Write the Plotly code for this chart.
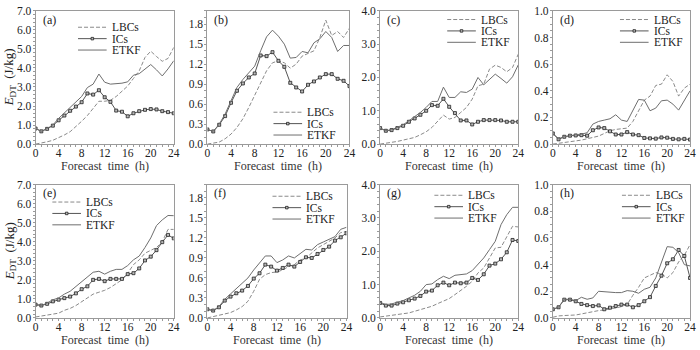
import plotly.graph_objects as go

hours = list(range(25))
panels = ["a", "b", "c", "d", "e", "f", "g", "h"]

lbcs_a = [0.0, 0.05, 0.12, 0.2, 0.32, 0.48, 0.65, 0.9, 1.2, 1.5, 1.9, 2.25, 2.25, 2.3, 2.5, 2.75, 3.05, 3.45, 3.85, 4.55, 4.88, 4.6, 4.35, 4.5, 5.08]
ics_a = [0.82, 0.67, 0.8, 0.97, 1.25, 1.5, 1.75, 1.97, 2.2, 2.66, 2.6, 2.83, 2.46, 2.22, 1.76, 1.7, 1.46, 1.62, 1.73, 1.8, 1.84, 1.82, 1.73, 1.68, 1.62]
etkf_a = [0.82, 0.67, 0.82, 1.0, 1.35, 1.65, 1.92, 2.2, 2.5, 2.97, 3.15, 3.68, 3.25, 3.15, 3.18, 3.2, 3.27, 3.62, 3.7, 3.92, 4.18, 3.9, 3.58, 3.95, 4.38]

lbcs_b = [0.0, 0.01, 0.03, 0.08, 0.15, 0.25, 0.38, 0.55, 0.73, 0.9, 1.1, 1.22, 1.25, 1.22, 1.14, 1.2, 1.32, 1.36, 1.4, 1.6, 1.86, 1.63, 1.69, 1.6, 1.74]
ics_b = [0.22, 0.19, 0.29, 0.42, 0.62, 0.8, 0.91, 1.0, 1.06, 1.33, 1.32, 1.38, 1.25, 1.16, 0.92, 0.85, 0.79, 0.89, 0.94, 1.0, 1.05, 1.05, 0.98, 0.95, 0.87]
etkf_b = [0.22, 0.19, 0.3, 0.45, 0.65, 0.85, 0.97, 1.07, 1.17, 1.4, 1.61, 1.71, 1.62, 1.5, 1.29, 1.3, 1.39, 1.37, 1.52, 1.58, 1.69, 1.6, 1.39, 1.48, 1.48]

lbcs_c = [0.0, 0.02, 0.05, 0.08, 0.12, 0.15, 0.2, 0.28, 0.37, 0.5, 0.7, 0.87, 0.75, 0.8, 0.95, 1.1, 1.35, 1.75, 1.8, 2.25, 2.37, 2.3, 2.17, 2.3, 2.7]
ics_c = [0.48, 0.4, 0.42, 0.48, 0.55, 0.67, 0.77, 0.88, 1.0, 1.17, 1.15, 1.36, 1.12, 0.93, 0.71, 0.71, 0.59, 0.67, 0.72, 0.72, 0.72, 0.71, 0.67, 0.67, 0.67]
etkf_c = [0.48, 0.4, 0.43, 0.5, 0.58, 0.7, 0.82, 0.95, 1.1, 1.28, 1.28, 1.71, 1.4, 1.4, 1.57, 1.55, 1.65, 2.0, 1.78, 1.95, 2.1, 1.97, 1.83, 2.02, 2.38]

lbcs_d = [0.0, 0.005, 0.01, 0.015, 0.02, 0.03, 0.04, 0.05, 0.06, 0.08, 0.1, 0.11, 0.115, 0.12, 0.17, 0.25, 0.33, 0.36, 0.44, 0.45, 0.52, 0.47, 0.36, 0.42, 0.45]
ics_d = [0.08, 0.036, 0.055, 0.063, 0.065, 0.067, 0.063, 0.104, 0.125, 0.12, 0.096, 0.072, 0.072, 0.09, 0.072, 0.067, 0.046, 0.043, 0.041, 0.05, 0.048, 0.039, 0.036, 0.039, 0.034]
etkf_d = [0.08, 0.04, 0.055, 0.065, 0.07, 0.075, 0.085, 0.15, 0.17, 0.18, 0.19, 0.22, 0.18, 0.17, 0.25, 0.335, 0.33, 0.25, 0.27, 0.325, 0.33, 0.3, 0.255, 0.33, 0.4]

lbcs_e = [0.05, 0.1, 0.15, 0.2, 0.25, 0.4, 0.5, 0.65, 0.85, 1.05, 1.25, 1.35, 1.45, 1.6, 1.8, 2.0, 2.35, 2.8, 3.05, 3.4, 3.55, 3.7, 4.0, 4.65, 4.65]
ics_e = [0.7, 0.65, 0.74, 0.87, 0.96, 1.04, 1.12, 1.29, 1.51, 1.66, 2.0, 2.05, 1.93, 2.05, 2.05, 2.05, 2.3, 2.35, 2.6, 3.02, 3.22, 3.56, 3.98, 4.36, 4.18]
etkf_e = [0.72, 0.65, 0.78, 0.95, 1.05, 1.25, 1.4, 1.65, 1.95, 2.15, 2.4, 2.45, 2.3, 2.45, 2.55, 2.55, 2.75, 3.05, 3.25, 3.7, 4.2, 4.85, 5.15, 5.38, 5.37]

lbcs_f = [0.0, 0.02, 0.04, 0.06, 0.08, 0.12, 0.17, 0.25, 0.4, 0.58, 0.65, 0.68, 0.69, 0.72, 0.77, 0.8, 0.87, 0.9, 0.98, 1.05, 1.1, 1.15, 1.2, 1.28, 1.3]
ics_f = [0.13, 0.11, 0.16, 0.26, 0.32, 0.37, 0.41, 0.48, 0.59, 0.67, 0.8, 0.77, 0.71, 0.75, 0.8, 0.77, 0.84, 0.91, 0.9, 0.96, 1.02, 1.07, 1.16, 1.21, 1.27]
etkf_f = [0.13, 0.11, 0.17, 0.28, 0.36, 0.44, 0.51, 0.6, 0.72, 0.83, 0.93, 0.93, 0.83, 0.87, 0.93, 0.9, 0.97, 1.03, 1.02, 1.1, 1.14, 1.18, 1.22, 1.33, 1.36]

lbcs_g = [0.03, 0.05, 0.07, 0.09, 0.12, 0.15, 0.2, 0.25, 0.3, 0.35, 0.43, 0.5, 0.58, 0.7, 0.82, 0.95, 1.1, 1.35, 1.5, 1.8, 2.1, 2.12, 2.45, 2.75, 2.73]
ics_g = [0.45, 0.37, 0.37, 0.43, 0.47, 0.53, 0.58, 0.66, 0.79, 0.82, 0.98, 1.06, 0.98, 1.06, 1.04, 1.06, 1.2, 1.14, 1.31, 1.57, 1.63, 1.76, 1.97, 2.34, 2.31]
etkf_g = [0.47, 0.4, 0.42, 0.47, 0.52, 0.6, 0.68, 0.8, 1.0, 1.02, 1.15, 1.25, 1.18, 1.28, 1.3, 1.32, 1.42, 1.62, 1.8, 2.05, 2.3, 2.8, 3.1, 3.32, 3.32]

lbcs_h = [0.005, 0.015, 0.018, 0.02, 0.022, 0.03, 0.04, 0.05, 0.055, 0.06, 0.065, 0.075, 0.085, 0.1, 0.17, 0.23, 0.3, 0.32, 0.34, 0.33, 0.3, 0.34, 0.42, 0.47, 0.55]
ics_h = [0.065, 0.08, 0.137, 0.137, 0.125, 0.105, 0.096, 0.089, 0.094, 0.065, 0.077, 0.089, 0.1, 0.1, 0.08, 0.096, 0.125, 0.156, 0.24, 0.317, 0.41, 0.44, 0.51, 0.465, 0.3]
etkf_h = [0.065, 0.08, 0.14, 0.14, 0.13, 0.155, 0.14, 0.15, 0.2, 0.195, 0.19, 0.19, 0.19, 0.205, 0.2, 0.185, 0.215, 0.23, 0.3, 0.42, 0.535, 0.53, 0.49, 0.4, 0.39]

series_names = ["LBCs", "ICs", "ETKF"]
data = {
    "a": (lbcs_a, ics_a, etkf_a), "b": (lbcs_b, ics_b, etkf_b),
    "c": (lbcs_c, ics_c, etkf_c), "d": (lbcs_d, ics_d, etkf_d),
    "e": (lbcs_e, ics_e, etkf_e), "f": (lbcs_f, ics_f, etkf_f),
    "g": (lbcs_g, ics_g, etkf_g), "h": (lbcs_h, ics_h, etkf_h),
}
y_max = {"a": 7.0, "b": 2.0, "c": 4.0, "d": 1.0, "e": 7.0, "f": 2.0, "g": 4.0, "h": 1.0}
y_dtick = {"a": 1.0, "b": 0.3, "c": 1.0, "d": 0.2, "e": 1.0, "f": 0.3, "g": 1.0, "h": 0.2}
y_minor = {"a": 0.2, "b": 0.1, "c": 0.2, "d": 0.05, "e": 0.2, "f": 0.1, "g": 0.2, "h": 0.05}

W, H = 700, 350
# panel boxes in pixels: x0, x1, ytop, ybottom
boxes = {
    "a": (33, 173, 5, 143), "b": (207, 351, 5, 143), "c": (382, 522, 5, 143), "d": (557, 696, 5, 143),
    "e": (33, 173, 185, 323), "f": (207, 348, 185, 323), "g": (382, 522, 185, 323), "h": (557, 696, 185, 323),
}
# legend first-row sample start (px) per panel
legend_px = {
    "a": (76, 22), "b": (274, 110), "c": (450, 14), "d": (625, 14),
    "e": (50, 203), "f": (273, 197), "g": (437, 196), "h": (627, 196),
}

FONT = "Liberation Serif, Times New Roman, serif"
colors = {"LBCs": "#8a8a8a", "ICs": "#555555", "ETKF": "#6e6e6e"}
dashes = {"LBCs": "4px,2px", "ICs": "solid", "ETKF": "solid"}

fig = go.Figure()
shapes = []
annotations = []

for i, p in enumerate(panels):
    n = "" if i == 0 else str(i + 1)
    xa, ya = "x" + n, "y" + n
    lb, ic, et = data[p]
    for name, vals in zip(series_names, (lb, ic, et)):
        kw = dict(
            x=hours, y=vals, name=name, xaxis=xa, yaxis=ya, showlegend=False,
            line=dict(color=colors[name], width=1, dash=dashes[name]),
            mode="lines",
        )
        if name == "ICs":
            kw["mode"] = "lines+markers"
            kw["marker"] = dict(symbol="square", size=3, color="#bbbbbb", line=dict(width=0.8, color="#222222"))
        fig.add_trace(go.Scatter(**kw))

    x0, x1, yt, yb = boxes[p]
    axis_common = dict(
        showline=True, mirror=True, linecolor="#9a9a9a", linewidth=1,
        showgrid=False, zeroline=False, ticks="outside", ticklen=2, tickwidth=1,
        tickcolor="#9a9a9a",
        tickfont=dict(family=FONT, size=11.5, color="#222222"),
    )
    fig.update_layout(**{
        "xaxis" + n: dict(
            domain=[x0 / W, x1 / W], anchor=ya, range=[0, 24], tick0=0, dtick=4,
            ticklabelstandoff=-4,
            minor=dict(dtick=1, ticks="outside", ticklen=2, tickcolor="#9a9a9a"),
            **axis_common),
        "yaxis" + n: dict(
            domain=[1 - yb / H, 1 - yt / H], anchor=xa, range=[0, y_max[p]], tick0=0, dtick=y_dtick[p],
            tickformat=".1f", ticklabelstandoff=-1,
            minor=dict(dtick=y_minor[p], ticks="outside", ticklen=2, tickcolor="#9a9a9a"),
            **axis_common),
    })

    # panel label
    annotations.append(dict(
        text="(" + p + ")", x=(x0 + 5) / W, y=1 - (yt + 9) / H, xref="paper", yref="paper",
        xanchor="left", yanchor="middle", showarrow=False,
        font=dict(family=FONT, size=12, color="#222222")))
    # x-axis title
    annotations.append(dict(
        text="Forecast  time  (h)", x=(x0 + x1) / 2 / W, y=1 - (yb + 22.5) / H, xref="paper", yref="paper",
        xanchor="center", yanchor="middle", showarrow=False,
        font=dict(family=FONT, size=12, color="#333333")))
    # y-axis title on first column
    if p in ("a", "e"):
        annotations.append(dict(
            text="<i>E</i><sub>DT</sub>  (J/kg)", x=7 / W, y=1 - (yt + yb) / 2 / H, xref="paper", yref="paper",
            xanchor="center", yanchor="middle", textangle=-90, showarrow=False,
            font=dict(family=FONT, size=13, color="#222222")))

    # legend
    lx, ly = legend_px[p]
    for k, name in enumerate(series_names):
        ry = ly + 11.8 * k
        shapes.append(dict(
            type="line", xref="paper", yref="paper",
            x0=lx / W, x1=(lx + 29) / W, y0=1 - ry / H, y1=1 - ry / H,
            line=dict(color=colors[name], width=1, dash=("4px,2px" if name == "LBCs" else "solid"))))
        if name == "ICs":
            cx = lx + 14.5
            shapes.append(dict(
                type="rect", xref="paper", yref="paper",
                x0=(cx - 1.3) / W, x1=(cx + 1.3) / W, y0=1 - (ry + 1.3) / H, y1=1 - (ry - 1.3) / H,
                line=dict(color="#222222", width=0.8), fillcolor="#bbbbbb"))
        annotations.append(dict(
            text=name, x=(lx + 32) / W, y=1 - ry / H, xref="paper", yref="paper",
            xanchor="left", yanchor="middle", showarrow=False,
            font=dict(family=FONT, size=11.5, color="#222222")))

fig.update_layout(
    width=W, height=H, margin=dict(l=0, r=0, t=0, b=0),
    paper_bgcolor="white", plot_bgcolor="white",
    shapes=shapes, annotations=annotations, showlegend=False,
)

fig.write_html("out.html")
